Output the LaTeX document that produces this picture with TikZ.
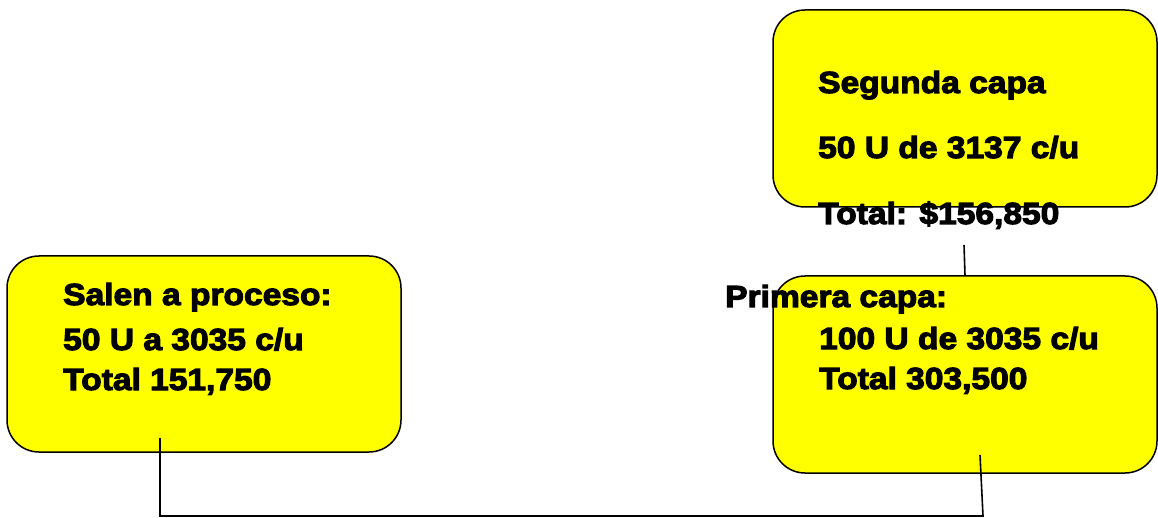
\documentclass[tikz,border=0pt]{standalone}
\usepackage{fontspec}
\newfontfamily\blk{Liberation Sans Bold}[FakeStretch=1.1,FakeBold=3.5]
\definecolor{boxyellow}{RGB}{255,255,0}
\begin{document}
\begin{tikzpicture}[x=1pt,y=-1pt,
  box/.style={draw=black,line width=1.5pt,fill=boxyellow,rounded corners=32pt,inner sep=0pt},
  txt/.style={anchor=base west,inner sep=0pt,font=\blk\fontsize{30.5}{36}\selectfont},
  conn/.style={draw=black,line width=1.6pt}]
\useasboundingbox (0,0) rectangle (1158,518);
\node[box,minimum width=384pt,minimum height=197pt] (seg) at (965,108.5) {};
\node[box,minimum width=384pt,minimum height=197pt] (pri) at (965,374.5) {};
\node[box,minimum width=394pt,minimum height=196pt] (sal) at (204,354) {};
% texts
\node[txt] (s1) at (818,93) {Segunda capa};
\node[txt] (s2) at (818,158) {50 U de 3137 c/u};
\node[txt] (s3) at (818,224) {Total: \$156,850};
\node[txt] (p1) at (725,307) {Primera capa:};
\node[txt] (p2) at (819,349) {100 U de 3035 c/u};
\node[txt] (p3) at (819,389) {Total 303,500};
\node[txt] (l1) at (63,305) {Salen a proceso:};
\node[txt] (l2) at (63,350) {50 U a 3035 c/u};
\node[txt] (l3) at (63,390) {Total 151,750};
% connectors
\coordinate (ct) at (964,245);
\coordinate (cl) at (160,438);
\coordinate (cr) at (980,455);
\coordinate (cb) at (983,516);
\draw[conn] (ct) -- (pri.north);
\draw[conn] (cl) |- (cb) -- (cr);
\end{tikzpicture}
\end{document}
